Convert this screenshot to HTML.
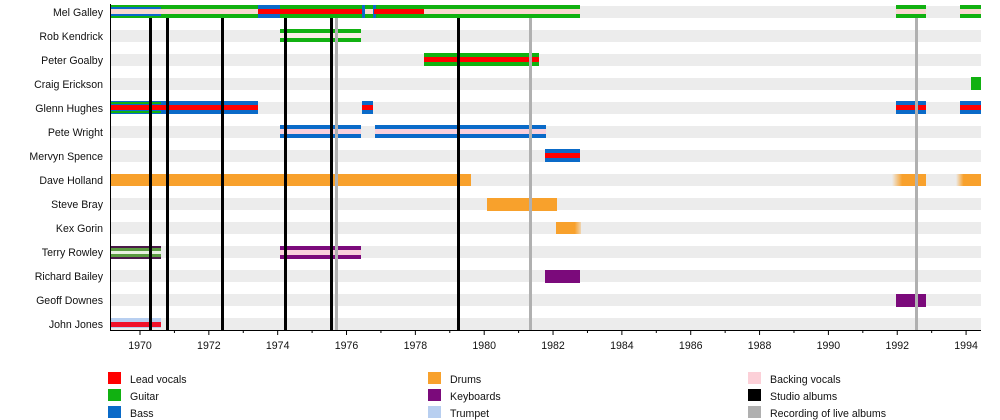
<!DOCTYPE html>
<html><head><meta charset="utf-8"><style>
html,body{margin:0;padding:0;background:#fff;width:1000px;height:420px;overflow:hidden}
text{font-family:"Liberation Sans",sans-serif;font-size:10.6px;fill:#111}
</style></head><body>
<svg width="1000" height="420" xmlns="http://www.w3.org/2000/svg">
<defs>
<linearGradient id="fl" x1="0" x2="1"><stop offset="0" stop-color="#f8a12c" stop-opacity="0"/><stop offset="0.3" stop-color="#f8a12c"/></linearGradient>
<linearGradient id="fr" x1="0" x2="1"><stop offset="0.75" stop-color="#f8a12c"/><stop offset="1" stop-color="#f8a12c" stop-opacity="0.3"/></linearGradient>
</defs>
<g fill="#ececec">
<rect x="110" y="6" width="871" height="12"/><rect x="110" y="30" width="871" height="12"/><rect x="110" y="54" width="871" height="12"/><rect x="110" y="78" width="871" height="12"/><rect x="110" y="102" width="871" height="12"/><rect x="110" y="126" width="871" height="12"/><rect x="110" y="150" width="871" height="12"/><rect x="110" y="174" width="871" height="12"/><rect x="110" y="198" width="871" height="12"/><rect x="110" y="222" width="871" height="12"/><rect x="110" y="246" width="871" height="12"/><rect x="110" y="270" width="871" height="12"/><rect x="110" y="294" width="871" height="12"/><rect x="110" y="318" width="871" height="12"/>
</g>
<g text-anchor="end">
<text x="103" y="16">Mel Galley</text><text x="103" y="40">Rob Kendrick</text><text x="103" y="64">Peter Goalby</text><text x="103" y="88">Craig Erickson</text><text x="103" y="112">Glenn Hughes</text><text x="103" y="136">Pete Wright</text><text x="103" y="160">Mervyn Spence</text><text x="103" y="184">Dave Holland</text><text x="103" y="208">Steve Bray</text><text x="103" y="232">Kex Gorin</text><text x="103" y="256">Terry Rowley</text><text x="103" y="280">Richard Bailey</text><text x="103" y="304">Geoff Downes</text><text x="103" y="328">John Jones</text>
</g>
<rect x="110" y="5" width="470" height="13" fill="#11b111"/>
<rect x="110" y="7" width="51" height="9" fill="#0a6ac8"/>
<rect x="110" y="9" width="470" height="5" fill="#f9d8d0"/>
<rect x="258" y="5" width="22" height="13" fill="#0a6ac8"/>
<rect x="258" y="9" width="104" height="5" fill="#f00"/>
<rect x="362" y="5" width="3" height="13" fill="#0a6ac8"/>
<rect x="373" y="5" width="3" height="13" fill="#0a6ac8"/>
<rect x="374" y="9" width="50" height="5" fill="#f00"/>
<rect x="896" y="5" width="30" height="13" fill="#11b111"/><rect x="896" y="9" width="30" height="5" fill="#f9d8d0"/>
<rect x="960" y="5" width="21" height="13" fill="#11b111"/><rect x="960" y="9" width="21" height="5" fill="#f9d8d0"/>
<rect x="280" y="29" width="81" height="13" fill="#11b111"/><rect x="280" y="33" width="81" height="5" fill="#fbeee6"/>
<rect x="424" y="53" width="115" height="13" fill="#11b111"/><rect x="424" y="57" width="115" height="5" fill="#f00"/>
<rect x="971" y="77" width="10" height="13" fill="#11b111"/>
<rect x="110" y="101" width="148" height="13" fill="#0a6ac8"/>
<rect x="110" y="102" width="51" height="2" fill="#11b111"/><rect x="110" y="111" width="51" height="2" fill="#11b111"/>
<rect x="110" y="105" width="148" height="5" fill="#f00"/>
<rect x="362" y="101" width="11" height="13" fill="#0a6ac8"/><rect x="362" y="105" width="11" height="5" fill="#f00"/>
<rect x="896" y="101" width="30" height="13" fill="#0a6ac8"/><rect x="896" y="105" width="30" height="5" fill="#f00"/>
<rect x="960" y="101" width="21" height="13" fill="#0a6ac8"/><rect x="960" y="105" width="21" height="5" fill="#f00"/>
<rect x="280" y="125" width="81" height="13" fill="#0a6ac8"/><rect x="280" y="129" width="81" height="5" fill="#f9d0dc"/>
<rect x="375" y="125" width="171" height="13" fill="#0a6ac8"/><rect x="375" y="129" width="171" height="5" fill="#f9d0dc"/>
<rect x="545" y="149" width="35" height="13" fill="#0a6ac8"/><rect x="545" y="153" width="35" height="5" fill="#f00"/>
<rect x="110" y="174" width="361" height="12" fill="#f8a12c"/>
<rect x="892" y="174" width="34" height="12" fill="url(#fl)"/>
<rect x="956" y="174" width="25" height="12" fill="url(#fl)"/>
<rect x="487" y="198" width="70" height="13" fill="#f8a12c"/>
<rect x="556" y="222" width="25" height="12" fill="url(#fr)"/>
<rect x="110" y="246" width="51" height="13" fill="#4a1a48"/>
<rect x="110" y="248" width="51" height="9" fill="#5a9a40"/>
<rect x="110" y="251" width="51" height="3" fill="#e8f0e0"/>
<rect x="280" y="246" width="81" height="13" fill="#7b0a7b"/><rect x="280" y="250" width="81" height="5" fill="#f9d0dc"/>
<rect x="545" y="270" width="35" height="13" fill="#7b0a7b"/>
<rect x="896" y="294" width="30" height="13" fill="#7b0a7b"/>
<rect x="110" y="318" width="51" height="10" fill="#b8cff0"/><rect x="110" y="322" width="51" height="5" fill="#f0102a"/>
<g fill="#000">
<rect x="149" y="18" width="3" height="312"/><rect x="166" y="18" width="3" height="312"/><rect x="221" y="18" width="3" height="312"/><rect x="284" y="18" width="3" height="312"/><rect x="330" y="18" width="3" height="312"/><rect x="457" y="18" width="3" height="312"/>
</g>
<g fill="#b0b0b0">
<rect x="335" y="18" width="3" height="312"/><rect x="529" y="18" width="3" height="312"/><rect x="915" y="18" width="3" height="312"/>
</g>
<rect x="110" y="4" width="1" height="327" fill="#000"/>
<rect x="110" y="330" width="871" height="1" fill="#000"/>
<g stroke="#000" stroke-width="1" id="ticks"></g>
<g text-anchor="middle" id="labels"></g>
<rect x="108" y="372" width="13" height="12" fill="#f00"/><text x="130" y="383">Lead vocals</text>
<rect x="108" y="389" width="13" height="12" fill="#11b111"/><text x="130" y="400">Guitar</text>
<rect x="108" y="406" width="13" height="12" fill="#0a6ac8"/><text x="130" y="417">Bass</text>
<rect x="428" y="372" width="13" height="12" fill="#f8a12c"/><text x="450" y="383">Drums</text>
<rect x="428" y="389" width="13" height="12" fill="#7b0a7b"/><text x="450" y="400">Keyboards</text>
<rect x="428" y="406" width="13" height="12" fill="#b8cff0"/><text x="450" y="417">Trumpet</text>
<rect x="748" y="372" width="13" height="12" fill="#fcd0d8"/><text x="770" y="383">Backing vocals</text>
<rect x="748" y="389" width="13" height="12" fill="#000"/><text x="770" y="400">Studio albums</text>
<rect x="748" y="406" width="13" height="12" fill="#b0b0b0"/><text x="770" y="417">Recording of live albums</text>
<script>
var t=document.getElementById('ticks'),l=document.getElementById('labels'),ns='http://www.w3.org/2000/svg';
for(var y=1970;y<=1994;y++){var x=140+(y-1970)*34.42;var ln=document.createElementNS(ns,'line');ln.setAttribute('x1',x);ln.setAttribute('x2',x);ln.setAttribute('y1',330);ln.setAttribute('y2',y%2==0?335:333);t.appendChild(ln);
if(y%2==0){var tx=document.createElementNS(ns,'text');tx.setAttribute('x',x);tx.setAttribute('y',349);tx.textContent=y;l.appendChild(tx);}}
</script>
</svg>
</body></html>
